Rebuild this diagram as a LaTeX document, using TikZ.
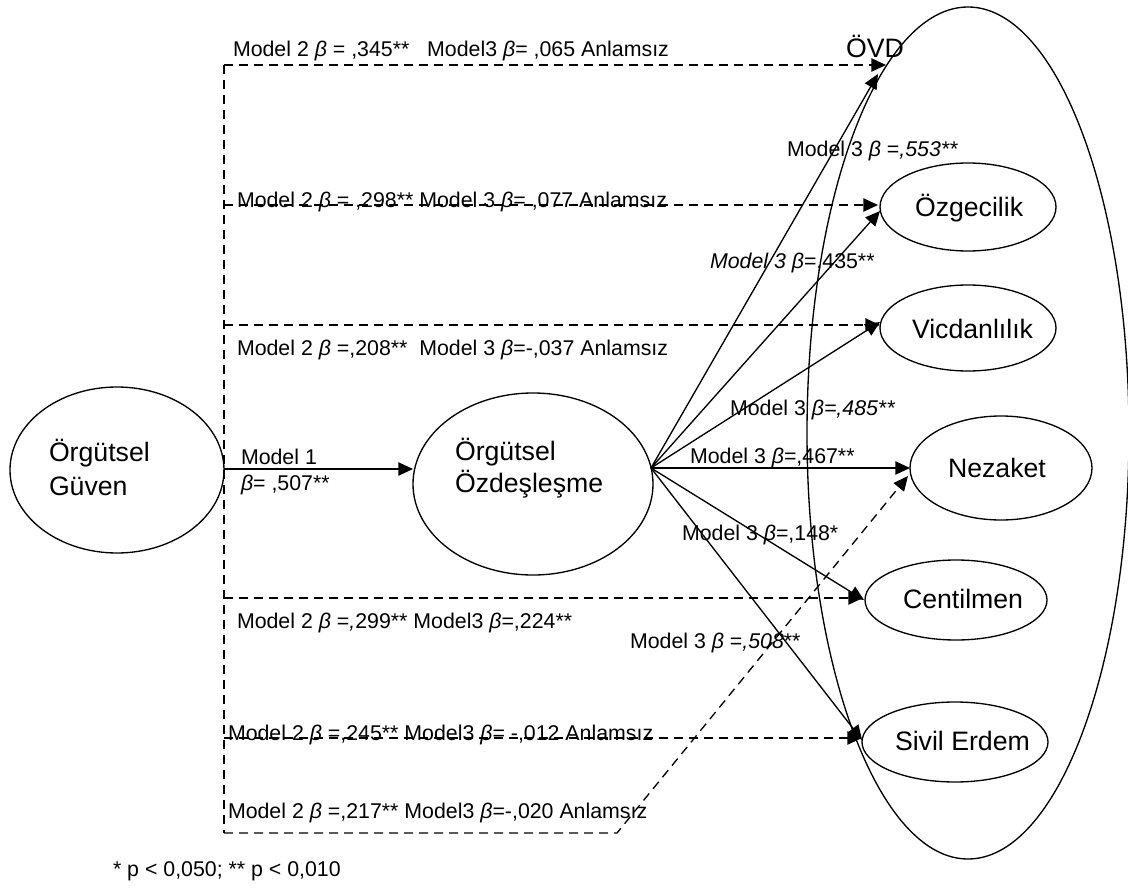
\documentclass[tikz,border=0pt]{standalone}
\usepackage{fontspec}
\setmainfont{Liberation Sans}
\usetikzlibrary{arrows.meta,shapes.geometric}
\begin{document}
\begin{tikzpicture}[x=0.75pt,y=-0.75pt,
  every node/.style={inner sep=0pt,outer sep=0pt},
  oval/.style={draw,ellipse,line width=1pt},
  lbl/.style={anchor=base west,font=\fontsize{16}{19}\selectfont},
  big/.style={anchor=base west,font=\fontsize{20}{24}\selectfont},
  solidarr/.style={line width=1pt,-{Triangle[length=11pt,width=10pt]}},
  dasharr/.style={line width=1pt,dash pattern=on 6.75pt off 4.5pt,-{Triangle[length=11pt,width=10pt]}},
  dashline/.style={line width=1pt,dash pattern=on 6.75pt off 4.5pt}]
\useasboundingbox (0,0) rectangle (1128,888);
\newcommand{\bt}{\textit{β}}

% constructs
\node[oval,minimum width=160.5pt,minimum height=124.5pt] (guven) at (117,470) {};
\node[oval,minimum width=180pt,minimum height=136.5pt] (ozdes) at (533,484) {};
\node[oval,minimum width=241.5pt,minimum height=639pt] (ovd) at (968,433) {};
\node[oval,minimum width=132pt,minimum height=66pt] (ozg) at (968,207) {};
\node[oval,minimum width=132pt,minimum height=64.5pt] (vic) at (968,328) {};
\node[oval,minimum width=136.5pt,minimum height=78pt] (nez) at (1001,468) {};
\node[oval,minimum width=136.5pt,minimum height=60pt] (cen) at (956,600) {};
\node[oval,minimum width=139.5pt,minimum height=60pt] (siv) at (955,742) {};

\node[big] (tguven1) at (49,461) {Örgütsel};
\node[big] (tguven2) at (49,495) {Güven};
\node[big] (tozdes1) at (455,460) {Örgütsel};
\node[big] (tozdes2) at (455,492) {Özdeşleşme};
\node[big] (tovd) at (846,58) {ÖVD};
\node[big] (tozg) at (915,217) {Özgecilik};
\node[big] (tvic) at (912,338) {Vicdanlılık};
\node[big] (tnez) at (948,477) {Nezaket};
\node[big] (tcen) at (903,608) {Centilmen};
\node[big] (tsiv) at (895,750) {Sivil Erdem};

% connector end points
\coordinate (gout) at (224,469);
\coordinate (fan) at (651,468);
\coordinate (dtop) at (224,65);
\coordinate (dbot) at (224,833);
\coordinate (dknee) at (617,833);
\coordinate (inovd) at (886,65);
\coordinate (inovd2) at (878,74);
\coordinate (inozg) at (878,205);
\coordinate (inozg2) at (880,211);
\coordinate (invic) at (880,325);
\coordinate (invic2) at (880,322);
\coordinate (innez) at (910,468);
\coordinate (innez2) at (908,476);
\coordinate (incen) at (863,598);
\coordinate (incen2) at (864,600);
\coordinate (insiv) at (862,738);
\coordinate (insiv2) at (862,740);
\coordinate (d2) at (224,205);
\coordinate (d3) at (224,325);
\coordinate (d5) at (224,598);
\coordinate (d6) at (224,738);

% mediator path
\draw[solidarr] (gout) -- (ozdes.west |- gout);

% direct (dashed) paths
\draw[dashline] (dtop) -- (dbot);
\draw[dasharr] (dtop) -- (inovd);
\draw[dasharr] (d2) -- (inozg);
\draw[dasharr] (d3) -- (invic);
\draw[dasharr] (d5) -- (incen);
\draw[dasharr] (d6) -- (insiv);
\draw[dasharr] (dbot) -- (dknee) -- (innez2);

% paths from the mediator
\draw[solidarr] (fan) -- (inovd2);
\draw[solidarr] (fan) -- (inozg2);
\draw[solidarr] (fan) -- (invic2);
\draw[solidarr] (fan) -- (innez);
\draw[solidarr] (fan) -- (incen2);
\draw[solidarr] (fan) -- (insiv2);

% coefficients
\node[lbl] (c1) at (233,57) {Model 2 \bt{} = ,345**\ \ \ Model3 \bt= ,065 Anlamsız};
\node[lbl] (c2) at (237,208) {Model 2 \bt{} = ,298** Model 3 \bt= ,077 Anlamsız};
\node[lbl] (c3) at (237,355) {Model 2 \bt{} =,208**\ \ Model 3 \bt=-,037 Anlamsız};
\node[lbl] (c4) at (241,464) {Model 1};
\node[lbl] (c5) at (241,490) {\bt= ,507**};
\node[lbl] (c6) at (237,628) {Model 2 \bt{} =\textit{,}299** Model3 \bt=,224**};
\node[lbl] (c7) at (228,740) {Model 2 \bt{} =,245** Model3 \bt= -,012 Anlamsız};
\node[lbl] (c8) at (228,818) {Model 2 \bt{} =,217** Model3 \bt=-,020 Anlamsız};
\node[lbl] (m1) at (787,157) {Model 3 \bt{} =\textit{,553**}};
\node[lbl] (m2) at (710,268) {\textit{Model 3 β}=,435**};
\node[lbl] (m3) at (730,415) {Model 3 \bt\textit{=,485**}};
\node[lbl] (m4) at (690,463) {Model 3 \bt=,467**};
\node[lbl] (m5) at (682,540) {Model 3 \bt=,148*};
\node[lbl] (m6) at (630,648) {Model 3 \bt{} =\textit{,508}**};
\node[lbl] (foot) at (113,876) {* p < 0,050; ** p < 0,010};
\end{tikzpicture}
\end{document}
